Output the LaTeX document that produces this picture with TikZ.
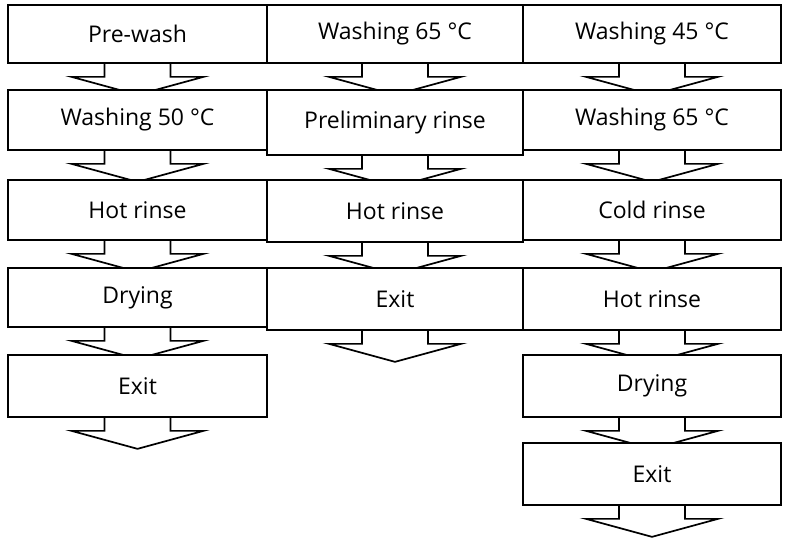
\documentclass[tikz,border=0pt]{standalone}
\usepackage{fontspec}
\setmainfont{Open Sans}
\usetikzlibrary{calc,backgrounds}
\tikzset{
  stage/.style={draw=black, fill=white, line width=1.7pt, inner sep=0pt,
    font=\fontsize{23}{25}\selectfont, text centered},
  flow/.style={draw=black, fill=white, line width=1.7pt, line join=miter}
}
% arrow hanging below a stage
\newcommand{\stagearrow}[1]{%
  \draw[flow] ($(#1.south)+(-33,0)$) -- ++(0,13) -- ++(-33,0)
    -- ($(#1.south)+(0,31)$) -- ($(#1.south)+(66,13)$) -- ++(-33,0)
    -- ($(#1.south)+(33,0)$);}
\begin{document}
\begin{tikzpicture}[x=1pt,y=-1pt]
  \useasboundingbox (0,0) rectangle (807,539);

  % Column 1
  \node[stage,minimum width=259pt,minimum height=58pt] (A1) at (137.5,34) {Pre-wash};
  \node[stage,minimum width=259pt,minimum height=60pt] (A2) at (137.5,120) {Washing 50 °C};
  \node[stage,minimum width=259pt,minimum height=60pt] (A3) at (137.5,210) {Hot rinse};
  \node[stage,minimum width=259pt,minimum height=59pt] (A4) at (137.5,297.5) {Drying};
  \node[stage,minimum width=259pt,minimum height=62pt] (A5) at (137.5,386) {Exit};

  % Column 2
  \node[stage,minimum width=256pt,minimum height=58pt] (B1) at (395,34) {Washing 65 °C};
  \node[stage,minimum width=256pt,minimum height=65pt] (B2) at (395,122.5) {Preliminary rinse};
  \node[stage,minimum width=256pt,minimum height=62pt] (B3) at (395,211) {Hot rinse};
  \node[stage,minimum width=256pt,minimum height=62pt] (B4) at (395,299) {Exit};

  % Column 3
  \node[stage,minimum width=258pt,minimum height=58pt] (C1) at (652,34) {Washing 45 °C};
  \node[stage,minimum width=258pt,minimum height=60pt] (C2) at (652,120) {Washing 65 °C};
  \node[stage,minimum width=258pt,minimum height=60pt] (C3) at (652,210) {Cold rinse};
  \node[stage,minimum width=258pt,minimum height=62pt] (C4) at (652,299) {Hot rinse};
  \node[stage,minimum width=258pt,minimum height=62pt] (C5) at (652,386) {Drying};
  \node[stage,minimum width=258pt,minimum height=62pt] (C6) at (652,474) {Exit};

  % Arrows
  \begin{scope}[on background layer]
    \foreach \n in {A1,A2,A3,A4,A5,B1,B2,B3,B4,C1,C2,C3,C4,C5,C6}
      {\stagearrow{\n}}
  \end{scope}
\end{tikzpicture}
\end{document}
